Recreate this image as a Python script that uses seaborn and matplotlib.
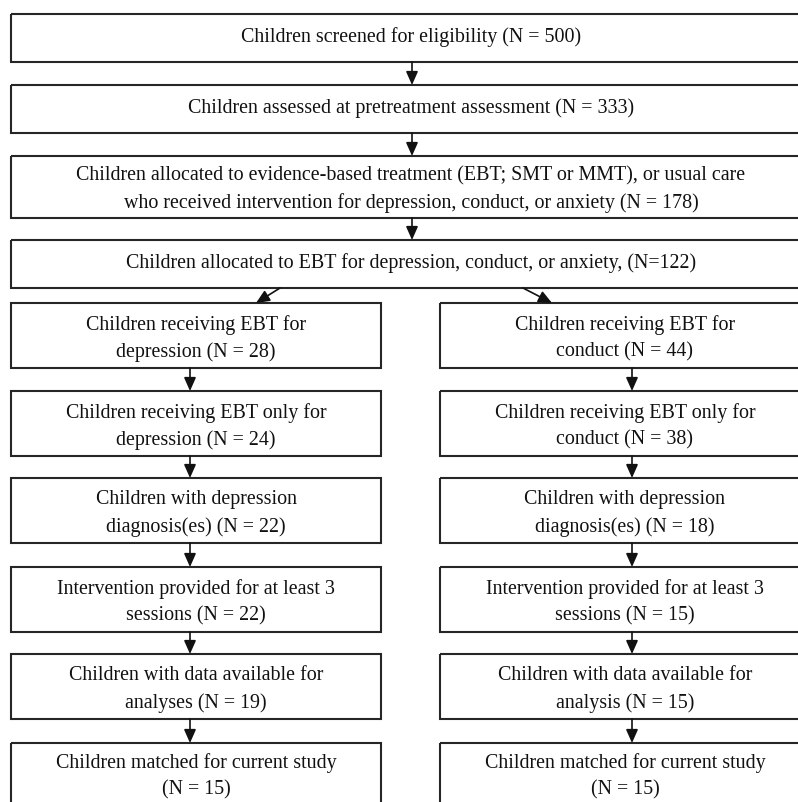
# flowchart: children screened -> allocated -> two EBT arms
import matplotlib
matplotlib.use("Agg")
import matplotlib.pyplot as plt
from matplotlib.patches import Rectangle
import seaborn as sns

# box texts
top_labels = [
    "Children screened for eligibility (N = 500)",
    "Children assessed at pretreatment assessment (N = 333)",
    "Children allocated to evidence-based treatment (EBT; SMT or MMT), or usual care\nwho received intervention for depression, conduct, or anxiety (N = 178)",
    "Children allocated to EBT for depression, conduct, or anxiety, (N=122)",
]
left_labels = [
    "Children receiving EBT for\ndepression (N = 28)",
    "Children receiving EBT only for\ndepression (N = 24)",
    "Children with depression\ndiagnosis(es) (N = 22)",
    "Intervention provided for at least 3\nsessions (N = 22)",
    "Children with data available for\nanalyses (N = 19)",
    "Children matched for current study\n(N = 15)",
]
right_labels = [
    "Children receiving EBT for\nconduct (N = 44)",
    "Children receiving EBT only for\nconduct (N = 38)",
    "Children with depression\ndiagnosis(es) (N = 18)",
    "Intervention provided for at least 3\nsessions (N = 15)",
    "Children with data available for\nanalysis (N = 15)",
    "Children matched for current study\n(N = 15)",
]

# layout (pixel units, y grows downward)
W, H = 798, 802
top_y = [(14, 62), (85, 133), (156, 218), (240, 288)]
side_y = [(303, 368), (391, 456), (478, 543), (567, 632), (654, 719), (743, 810)]
top_x = (11, 811)
left_x = (11, 381)
right_x = (440, 810)
mid_arrow_x, left_arrow_x, right_arrow_x = 412, 190, 632

sns.set_style("white")
plt.rcParams["font.family"] = ["Liberation Serif", "DejaVu Serif"]

fig = plt.figure(figsize=(W / 100, H / 100), dpi=100)
ax = fig.add_axes([0, 0, 1, 1])
ax.set_xlim(0, W)
ax.set_ylim(H, 0)
ax.axis("off")

line_col = "#262626"
fs = 14.4


def box(x0, x1, y0, y1, text, ty=None):
    ax.add_patch(Rectangle((x0, y0), x1 - x0, y1 - y0, fill=False,
                           edgecolor=line_col, lw=1.5, clip_on=False))
    if ty is None:
        ty = (y0 + y1) / 2 + (3 if "\n" in text else -1)
    ax.text((x0 + x1) / 2, ty, text, ha="center", va="center",
            fontsize=fs, color="#111111", linespacing=1.5)


def arrow(x0, y0, x1, y1):
    ax.annotate("", xy=(x1, y1), xytext=(x0, y0),
                arrowprops=dict(arrowstyle="-|>,head_length=0.9,head_width=0.4",
                                mutation_scale=9, color="#111111", lw=1.2,
                                shrinkA=0, shrinkB=0))


for (y0, y1), lab in zip(top_y, top_labels):
    box(top_x[0], top_x[1], y0, y1, lab)
for i in range(len(top_y) - 1):
    arrow(mid_arrow_x, top_y[i][1], mid_arrow_x, top_y[i + 1][0])

for j, ((y0, y1), lab) in enumerate(zip(side_y, left_labels)):
    # last row is cut off by the image edge, text sits near the top
    ty = y0 + 33 if j == len(side_y) - 1 else None
    box(left_x[0], left_x[1], y0, y1, lab, ty)
for j, ((y0, y1), lab) in enumerate(zip(side_y, right_labels)):
    ty = y0 + 33 if j == len(side_y) - 1 else None
    box(right_x[0], right_x[1], y0, y1, lab, ty)
for i in range(len(side_y) - 1):
    arrow(left_arrow_x, side_y[i][1], left_arrow_x, side_y[i + 1][0])
    arrow(right_arrow_x, side_y[i][1], right_arrow_x, side_y[i + 1][0])

# split arrows
arrow(280, top_y[3][1], 256, side_y[0][0])
arrow(523, top_y[3][1], 552, side_y[0][0])

fig.savefig("out.png", dpi=100, facecolor="white")
